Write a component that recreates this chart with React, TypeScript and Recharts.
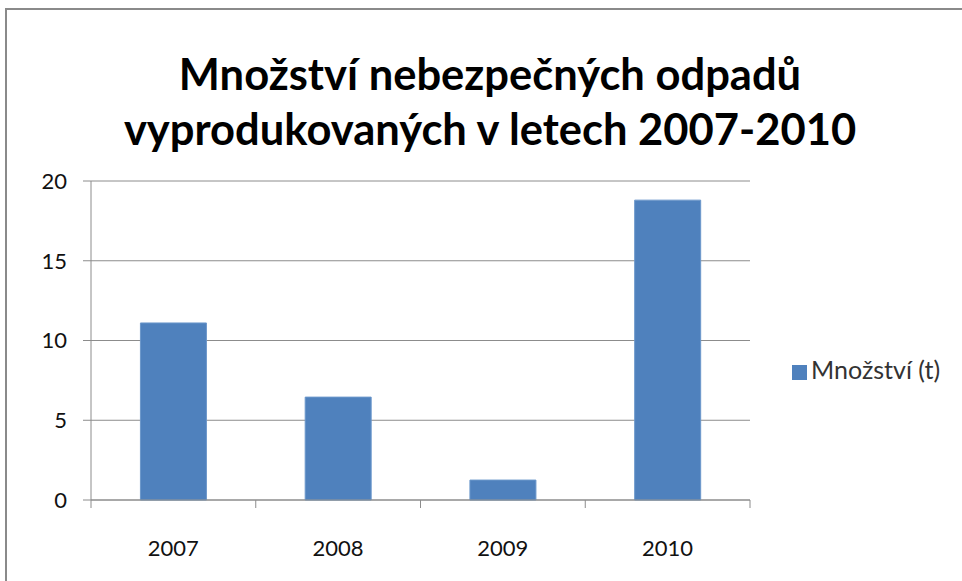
import React from 'react';
import { BarChart, Bar, XAxis, YAxis, CartesianGrid, Legend } from 'recharts';

const years = ['2007', '2008', '2009', '2010'];
const amounts = [11.1, 6.45, 1.25, 18.8];
const yTicks = [0, 5, 10, 15, 20];

const data = years.map((year, i) => ({ year, value: amounts[i] }));

const FONT = 'Lato, "Open Sans", sans-serif';
const AXIS = '#8c8c8c';

const YearTick = (props: any) => {
  const { x, y, payload, index } = props;
  const half = payload.offset || 0;
  return (
    <g>
      <line x1={x - half} x2={x - half} y1={y} y2={y + 8} stroke={AXIS} />
      {index === years.length - 1 && (
        <line x1={x + half} x2={x + half} y1={y} y2={y + 8} stroke={AXIS} />
      )}
      <text x={x} y={y + 47} textAnchor="middle" dominantBaseline="central" fontSize={22} fill="#111" fontFamily={FONT}>
        {payload.value}
      </text>
    </g>
  );
};

export default function App() {
  return (
    <div style={{ position: 'absolute', left: 0, top: 0, width: 962, height: 581, overflow: 'hidden', background: '#fff' }}>
      <div style={{ position: 'absolute', left: 5, top: 8, width: 1000, height: 700, border: '2px solid #8a8a8a' }} />
      <div
        style={{
          position: 'absolute',
          left: 0,
          width: 980,
          top: 46,
          textAlign: 'center',
          fontFamily: FONT,
          fontWeight: 700,
          fontSize: 43.5,
          lineHeight: '55px',
          color: '#000',
        }}
      >
        Množství nebezpečných odpadů
        <br />
        vyprodukovaných v letech 2007-2010
      </div>
      <div style={{ position: 'absolute', left: 0, top: 0 }}>
        <BarChart
          width={962}
          height={581}
          data={data}
          barCategoryGap="30%"
          margin={{ top: 181, right: 42, bottom: 21, left: 21 }}
        >
          <CartesianGrid vertical={false} stroke={AXIS} strokeDasharray="0" />
          <XAxis
            dataKey="year"
            height={60}
            stroke={AXIS}
            tickLine={false}
            tickSize={0}
            tickMargin={0}
            tick={<YearTick />}
            interval={0}
          />
          <YAxis
            domain={[0, 20]}
            ticks={yTicks}
            width={70}
            stroke={AXIS}
            tickSize={8}
            tickMargin={16}
            tick={{ fill: '#111', fontSize: 22, fontFamily: FONT }}
            interval={0}
          />
          <Legend
            layout="vertical"
            align="right"
            verticalAlign="middle"
            iconType="square"
            iconSize={15}
            wrapperStyle={{ position: 'absolute', left: 792, top: 354, width: 170, right: 'auto', fontFamily: FONT, fontSize: 25 }}
            formatter={(v: any) => <span style={{ color: '#333' }}>{v}</span>}
          />
          <Bar dataKey="value" name="Množství (t)" fill="#4f81bd" stroke="#6b97cb" isAnimationActive={false} />
        </BarChart>
      </div>
    </div>
  );
}
